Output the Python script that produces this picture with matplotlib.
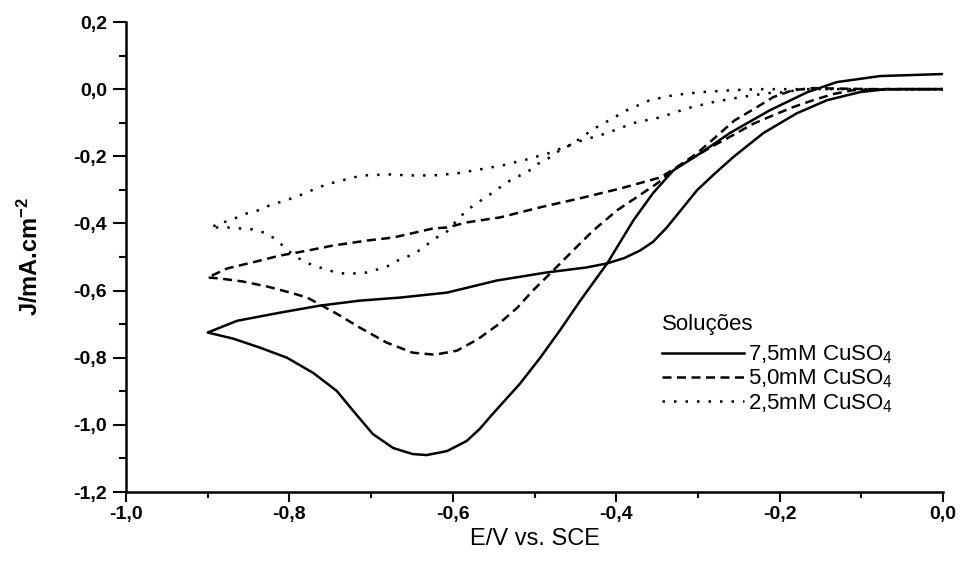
import matplotlib
matplotlib.use("Agg")
import matplotlib.pyplot as plt
from matplotlib.ticker import MultipleLocator, FuncFormatter

plt.rcParams['font.family'] = ['Liberation Sans', 'DejaVu Sans']
plt.rcParams['mathtext.fontset'] = 'custom'
plt.rcParams['mathtext.rm'] = 'Liberation Sans'
plt.rcParams['mathtext.bf'] = 'Liberation Sans:bold'
plt.rcParams['mathtext.default'] = 'regular'

# 7,5 mM CuSO4 : varredura de 0 a -0,9 V e volta
e_75 = [0.0, -0.069, -0.102, -0.142, -0.179, -0.220, -0.257, -0.280, -0.301, -0.320,
        -0.338, -0.355, -0.371, -0.390, -0.411, -0.436, -0.485, -0.546, -0.607, -0.665,
        -0.714, -0.763, -0.812, -0.864, -0.900,
        -0.869, -0.836, -0.803, -0.771, -0.742, -0.722, -0.698, -0.673, -0.649, -0.632,
        -0.607, -0.583, -0.567, -0.551, -0.518, -0.493, -0.469, -0.444, -0.411, -0.379,
        -0.355, -0.330, -0.297, -0.261, -0.212, -0.166, -0.130, -0.077, 0.0]
j_75 = [0.0, 0.0, -0.009, -0.033, -0.072, -0.131, -0.203, -0.253, -0.301, -0.358,
        -0.412, -0.455, -0.481, -0.503, -0.519, -0.531, -0.546, -0.570, -0.606, -0.621,
        -0.630, -0.645, -0.666, -0.690, -0.725,
        -0.743, -0.770, -0.800, -0.845, -0.899, -0.958, -1.027, -1.069, -1.087, -1.090,
        -1.078, -1.048, -1.012, -0.967, -0.878, -0.800, -0.719, -0.630, -0.519, -0.391,
        -0.310, -0.242, -0.191, -0.131, -0.063, -0.009, 0.021, 0.039, 0.045]

# 5,0 mM CuSO4
e_50 = [0.0, -0.053, -0.110, -0.135, -0.159, -0.184, -0.208, -0.233, -0.257, -0.282,
        -0.326, -0.346, -0.395, -0.444, -0.493, -0.542, -0.583, -0.607, -0.624, -0.673,
        -0.705, -0.747, -0.778, -0.812, -0.845, -0.876, -0.900,
        -0.885, -0.857, -0.827, -0.799, -0.778, -0.742, -0.714, -0.681, -0.649, -0.622,
        -0.595, -0.570, -0.546, -0.521, -0.502, -0.477, -0.453, -0.428, -0.399, -0.375,
        -0.350, -0.326, -0.301, -0.277, -0.255, -0.230, -0.208, -0.184, -0.159, -0.089, 0.0]
j_50 = [0.0, 0.0, -0.003, -0.015, -0.033, -0.054, -0.078, -0.104, -0.137, -0.170,
        -0.233, -0.263, -0.296, -0.325, -0.352, -0.382, -0.397, -0.412, -0.415, -0.442,
        -0.451, -0.466, -0.481, -0.496, -0.516, -0.534, -0.561,
        -0.564, -0.573, -0.588, -0.606, -0.621, -0.669, -0.710, -0.755, -0.785, -0.791,
        -0.779, -0.746, -0.704, -0.651, -0.600, -0.540, -0.481, -0.421, -0.361, -0.322,
        -0.281, -0.233, -0.191, -0.140, -0.093, -0.057, -0.024, -0.003, 0.003, 0.0, 0.0]

# 2,5 mM CuSO4
e_25 = [0.0, -0.175, -0.191, -0.215, -0.248, -0.282, -0.313, -0.346, -0.379, -0.411,
        -0.441, -0.457, -0.483, -0.509, -0.539, -0.567, -0.595, -0.624, -0.652, -0.679,
        -0.707, -0.722, -0.736, -0.750, -0.765, -0.778, -0.793, -0.808, -0.824, -0.838,
        -0.852, -0.867, -0.881, -0.897,
        -0.876, -0.860, -0.845, -0.827, -0.815, -0.803, -0.791, -0.777, -0.763, -0.747,
        -0.734, -0.720, -0.705, -0.692, -0.677, -0.665, -0.649, -0.636, -0.624, -0.607,
        -0.595, -0.583, -0.567, -0.554, -0.539, -0.526, -0.509, -0.497, -0.483, -0.469,
        -0.454, -0.442, -0.428, -0.411, -0.387, -0.359, -0.330, -0.297, -0.257, -0.224, 0.0]
j_25 = [0.0, 0.0, -0.009, -0.012, -0.024, -0.039, -0.057, -0.084, -0.101, -0.131,
        -0.152, -0.167, -0.191, -0.209, -0.227, -0.239, -0.251, -0.257, -0.257, -0.254,
        -0.257, -0.263, -0.272, -0.281, -0.293, -0.307, -0.322, -0.334, -0.346, -0.361,
        -0.370, -0.385, -0.397, -0.412,
        -0.412, -0.415, -0.418, -0.430, -0.451, -0.478, -0.501, -0.519, -0.531, -0.543,
        -0.549, -0.549, -0.546, -0.537, -0.525, -0.507, -0.493, -0.472, -0.448, -0.424,
        -0.391, -0.361, -0.334, -0.313, -0.287, -0.266, -0.248, -0.224, -0.206, -0.182,
        -0.164, -0.143, -0.119, -0.096, -0.063, -0.033, -0.018, -0.009, -0.003, 0.0, 0.0]

labels = [r'7,5mM CuSO$_4$', r'5,0mM CuSO$_4$', r'2,5mM CuSO$_4$']

fig = plt.figure(figsize=(9.6, 5.65), dpi=100)
ax = fig.add_axes([126 / 960, 1 - 492 / 565, 817 / 960, 470 / 565])

lw = 1.8
ax.plot(e_75, j_75, color='black', lw=lw, solid_joinstyle='round', label=labels[0])
ax.plot(e_50, j_50, color='black', lw=lw, linestyle=(0, (3.6, 2.2)),
        dash_capstyle='butt', label=labels[1])
ax.plot(e_25, j_25, color='black', lw=lw, linestyle=(0, (1.0, 3.6)),
        dash_capstyle='butt', label=labels[2])

ax.set_xlim(-1.0, 0.0)
ax.set_ylim(-1.2, 0.2)

for side in ['top', 'right']:
    ax.spines[side].set_visible(False)
for side in ['left', 'bottom']:
    ax.spines[side].set_linewidth(1.8)

comma = FuncFormatter(lambda v, pos: ('%.1f' % v).replace('.', ','))
ax.xaxis.set_major_locator(MultipleLocator(0.2))
ax.xaxis.set_minor_locator(MultipleLocator(0.1))
ax.yaxis.set_major_locator(MultipleLocator(0.2))
ax.yaxis.set_minor_locator(MultipleLocator(0.1))
ax.xaxis.set_major_formatter(comma)
ax.yaxis.set_major_formatter(comma)

ax.tick_params(axis='x', which='major', direction='out', length=7, width=1.5, pad=3)
ax.tick_params(axis='x', which='minor', direction='out', length=4, width=1.5)
ax.tick_params(axis='y', which='major', direction='out', length=9.5, width=1.5, pad=4)
ax.tick_params(axis='y', which='minor', direction='out', length=5, width=1.5)
for t in ax.get_xticklabels() + ax.get_yticklabels():
    t.set_fontsize(14)
    t.set_fontweight('bold')

ax.set_xlabel('E/V vs. SCE', fontsize=17)
ax.xaxis.set_label_coords(0.5, -0.076)
ax.set_ylabel(r'J/mA.cm$^{-2}$', fontsize=17, fontweight='bold')
ax.yaxis.set_label_coords(-0.102, 0.5)

leg = ax.legend(loc='upper left', bbox_to_anchor=(662 / 960, 1 - 314 / 565),
                bbox_transform=fig.transFigure, frameon=False, fontsize=16,
                title='Soluções', title_fontsize=16, alignment='left',
                handlelength=3.7, handletextpad=0.15, labelspacing=0.08,
                borderpad=0, borderaxespad=0)
leg._legend_box.sep = 6

fig.savefig('out.png', dpi=100)
